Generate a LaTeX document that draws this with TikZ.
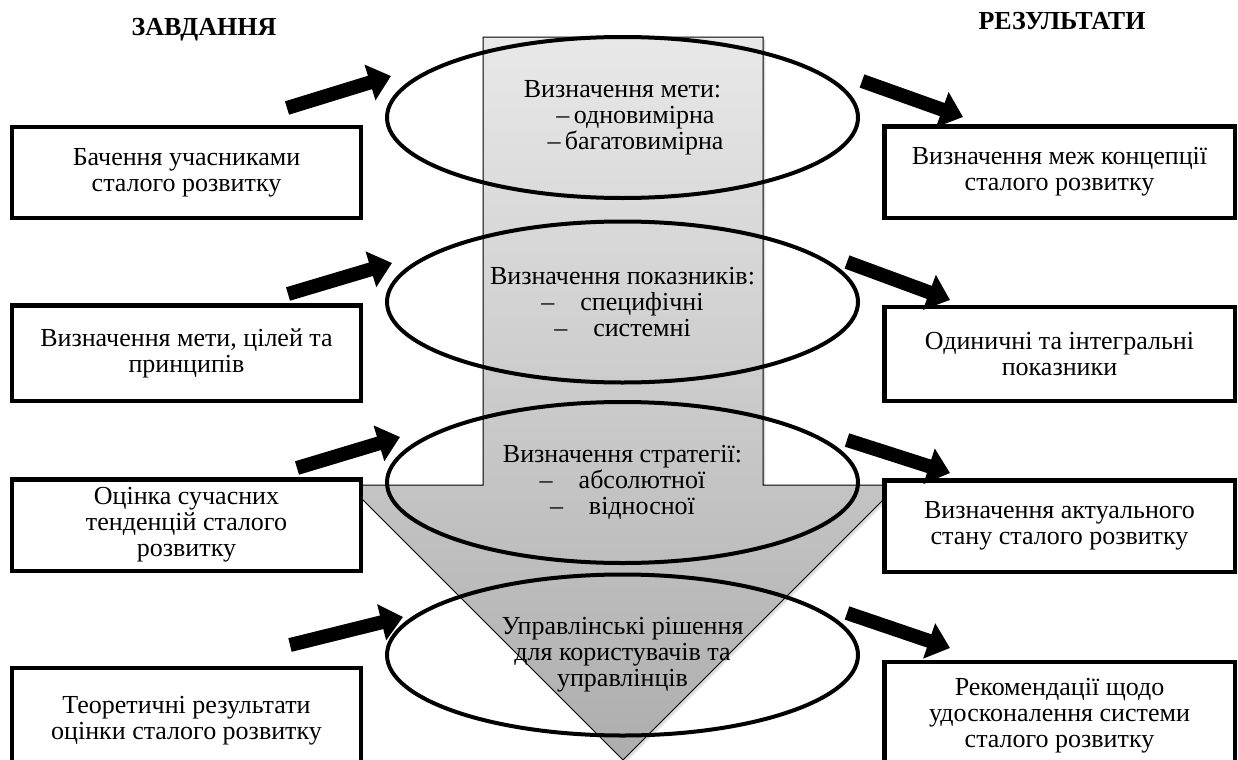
\documentclass[tikz,border=0pt]{standalone}
\usepackage{fontspec}
\setmainfont{Liberation Serif}
\usetikzlibrary{arrows.meta,shapes.geometric,shadows}
\begin{document}
\begin{tikzpicture}[x=0.5pt,y=-0.5pt,
  txt/.style={font=\fontsize{13}{13}\selectfont, align=center},
  box/.style={txt, draw, line width=2.25pt, fill=white, inner sep=0pt},
  oval/.style={txt, draw, ellipse, line width=2pt, inner sep=0pt, minimum width=235.5pt, minimum height=80.5pt},
  fat/.style={line width=7pt, -{Triangle[length=11pt,width=18pt]}},
  head/.style={font=\fontsize{13}{13}\selectfont\bfseries, anchor=base},
  bigarrow/.style={draw=black, line width=0.5pt, top color=black!9, bottom color=black!32,
    drop shadow={shadow xshift=1.2pt, shadow yshift=-1.2pt, opacity=0.25}}
]
\useasboundingbox (0,0) rectangle (1238,760);
\clip (0,0) rectangle (1238,760);

% central big arrow
\path[bigarrow] (483,37) -- (763,37) -- (763,485) -- (898,485) -- (623,760)
  -- (348,485) -- (483,485) -- cycle;

% titles
\node[head] (t1) at (204,35) {ЗАВДАННЯ};
\node[head] (t2) at (1062,30) {РЕЗУЛЬТАТИ};

% left boxes
\node[box, minimum width=174.5pt, minimum height=45.5pt] (L1) at (186.5,172.5) {Бачення учасниками\\сталого розвитку};
\node[box, minimum width=174.5pt, minimum height=47.75pt] (L2) at (186.5,353) {Визначення мети, цілей та\\принципів};
\node[box, minimum width=174.5pt, minimum height=45.75pt] (L3) at (186.5,525) {Оцінка сучасних\\тенденцій сталого\\розвитку};
\node[box, minimum width=174.5pt, minimum height=53pt] (L4) at (186.5,721) {Теоретичні результати\\оцінки сталого розвитку};

% right boxes
\node[box, minimum width=175.25pt, minimum height=45.75pt] (R1) at (1059.5,172) {Визначення меж концепції\\сталого розвитку};
\node[box, minimum width=175.25pt, minimum height=47pt] (R2) at (1059.5,354) {Одиничні та інтегральні\\показники};
\node[box, minimum width=175.25pt, minimum height=45.75pt] (R3) at (1059.5,526) {Визначення актуального\\стану сталого розвитку};
\node[box, minimum width=175.25pt, minimum height=54pt] (R4) at (1059.5,716) {Рекомендації щодо\\удосконалення системи\\сталого розвитку};

% ellipses
\node[oval] (E1) at (622.5,117.5) {Визначення мети:\\\hspace*{1em}–\,одновимірна\\\hspace*{1em}–\,багатовимірна};
\node[oval] (E2) at (622.5,302) {Визначення показників:\\–\hspace{1em}специфічні\\–\hspace{1em}системні};
\node[oval] (E3) at (622.5,482.5) {Визначення стратегії:\\–\hspace{1em}абсолютної\\–\hspace{1em}відносної};
\node[oval] (E4) at (622.5,655) {Управлінські рішення\\для користувачів та\\управлінців};

% fat arrows, left
\coordinate (la1s) at (287,108); \coordinate (la1e) at (391,76);
\coordinate (la2s) at (288,294); \coordinate (la2e) at (392,263);
\coordinate (la3s) at (297,468); \coordinate (la3e) at (400,437);
\coordinate (la4s) at (290,645); \coordinate (la4e) at (403,617);
\draw[fat] (la1s) -- (la1e);
\draw[fat] (la2s) -- (la2e);
\draw[fat] (la3s) -- (la3e);
\draw[fat] (la4s) -- (la4e);

% fat arrows, right
\coordinate (ra1s) at (862,81); \coordinate (ra1e) at (963,117);
\coordinate (ra2s) at (847,262); \coordinate (ra2e) at (950,300);
\coordinate (ra3s) at (847,440); \coordinate (ra3e) at (950,473);
\coordinate (ra4s) at (847,613); \coordinate (ra4e) at (950,648);
\draw[fat] (ra1s) -- (ra1e);
\draw[fat] (ra2s) -- (ra2e);
\draw[fat] (ra3s) -- (ra3e);
\draw[fat] (ra4s) -- (ra4e);
\end{tikzpicture}
\end{document}
